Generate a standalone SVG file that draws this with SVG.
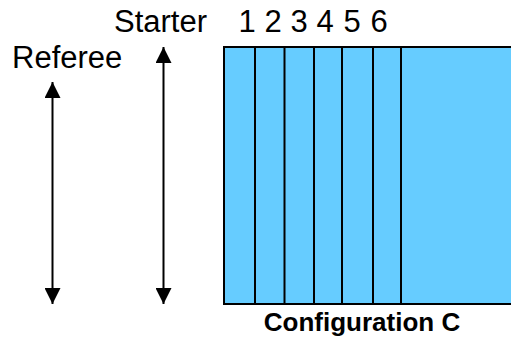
<svg xmlns="http://www.w3.org/2000/svg" width="511" height="337" viewBox="0 0 511 337">
<style>
.t{font-family:"Liberation Sans",Arial,sans-serif;font-size:31px;fill:#000}
.b{font-family:"Liberation Sans",Arial,sans-serif;font-size:26px;font-weight:bold;fill:#000}
.ln{stroke:#000;stroke-width:2;fill:none}
</style>
<defs>
<marker id="ah" markerUnits="userSpaceOnUse" markerWidth="16" markerHeight="16" refX="15" refY="7.5" orient="auto-start-reverse" viewBox="0 0 15 15">
<path d="M0,0 L15,7.5 L0,15 Z" fill="#000"/>
</marker>
</defs>
<g id="labels">
<text class="t" x="114" y="32">Starter</text>
<text class="t" x="12" y="68">Referee</text>
<g text-anchor="middle">
<text class="t" x="247" y="32">1</text>
<text class="t" x="273" y="32">2</text>
<text class="t" x="299" y="32">3</text>
<text class="t" x="325" y="32">4</text>
<text class="t" x="352" y="32">5</text>
<text class="t" x="379" y="32">6</text>
</g>
</g>
<g id="config">
<rect x="224" y="47" width="300" height="257" fill="#66CCFF" stroke="#000" stroke-width="2"/>
<line class="ln" x1="255" y1="47" x2="255" y2="304"/>
<line class="ln" x1="284.5" y1="47" x2="284.5" y2="304"/>
<line class="ln" x1="314" y1="47" x2="314" y2="304"/>
<line class="ln" x1="342" y1="47" x2="342" y2="304"/>
<line class="ln" x1="373" y1="47" x2="373" y2="304"/>
<line class="ln" x1="401" y1="47" x2="401" y2="304"/>
<text class="b" x="362" y="331" text-anchor="middle">Configuration C</text>
</g>
<g id="connectors">
<line class="ln" x1="52.5" y1="82" x2="52.5" y2="304" marker-start="url(#ah)" marker-end="url(#ah)"/>
<line class="ln" x1="163.5" y1="47" x2="163.5" y2="304" marker-start="url(#ah)" marker-end="url(#ah)"/>
</g>
</svg>
